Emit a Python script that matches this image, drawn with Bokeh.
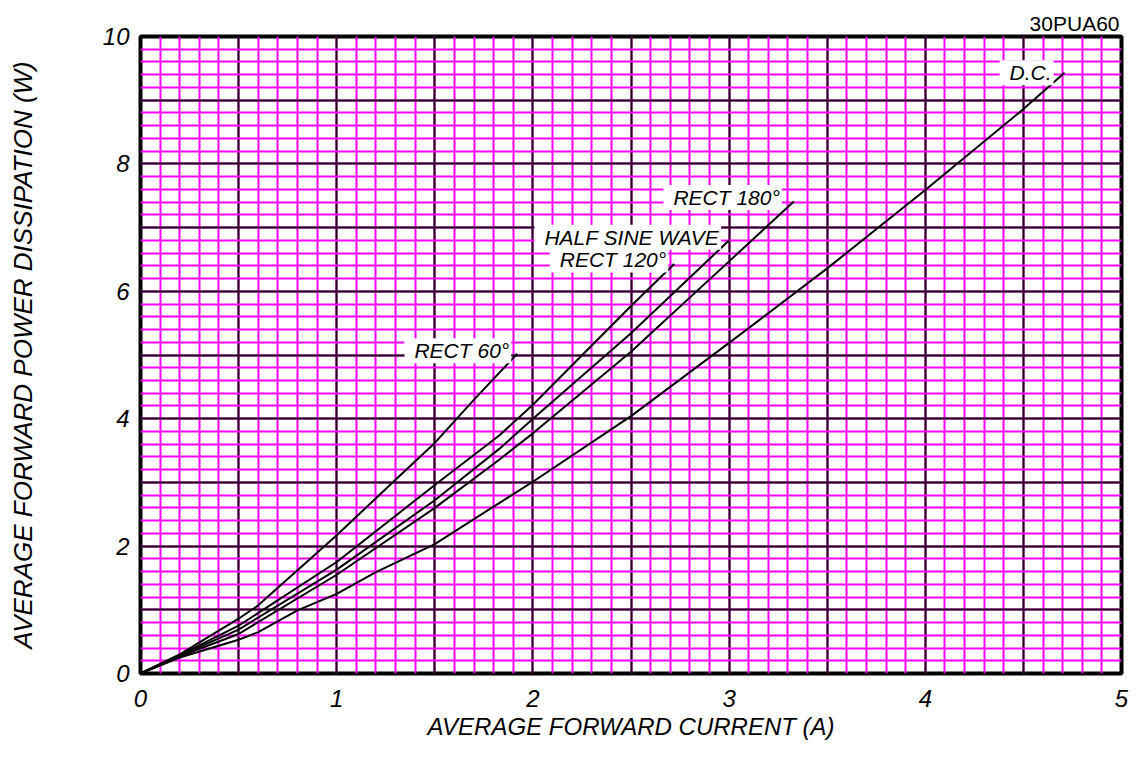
from bokeh.plotting import figure
from bokeh.models import SingleIntervalTicker, FixedTicker, Label
from bokeh.embed import file_html
from bokeh.resources import INLINE

# ---- data ----
rect60_x = [0, 0.2, 0.5, 0.6, 1.0, 1.32, 1.5, 1.7, 1.92]
rect60_y = [0, 0.30, 0.86, 1.07, 2.17, 3.10, 3.62, 4.30, 5.02]

rect120_x = [0, 0.2, 0.5, 1.0, 1.5, 1.83, 2.0, 2.5, 2.72]
rect120_y = [0, 0.29, 0.75, 1.75, 2.96, 3.74, 4.22, 5.77, 6.43]

halfsine_x = [0, 0.2, 0.5, 1.0, 1.5, 1.83, 2.0, 2.5, 3.0]
halfsine_y = [0, 0.28, 0.69, 1.63, 2.72, 3.53, 4.0, 5.34, 6.8]

rect180_x = [0, 0.2, 0.5, 1.0, 1.5, 1.83, 2.0, 2.5, 3.0, 3.33]
rect180_y = [0, 0.27, 0.62, 1.55, 2.6, 3.36, 3.77, 5.05, 6.47, 7.41]

dc_x = [0, 0.2, 0.5, 0.6, 0.8, 1.0, 1.2, 1.5, 1.83, 2.0, 2.5, 3.0, 3.5, 4.0, 4.5, 4.71]
dc_y = [0, 0.25, 0.53, 0.65, 0.99, 1.25, 1.59, 2.03, 2.68, 3.01, 4.04, 5.19, 6.36, 7.59, 8.86, 9.43]

series_names = ["RECT 60°", "RECT 120°", "HALF SINE WAVE", "RECT 180°", "D.C."]
x_ticks = [0, 1, 2, 3, 4, 5]
y_ticks = [0, 2, 4, 6, 8, 10]
part_number = "30PUA60"
x_title = "AVERAGE FORWARD CURRENT (A)"
y_title = "AVERAGE FORWARD POWER DISSIPATION (W)"

FONT = "Liberation Sans"

p = figure(width=1130, height=742, x_range=(0, 5), y_range=(0, 10),
           output_backend="svg", toolbar_location=None,
           min_border_left=140, min_border_right=9,
           min_border_top=36, min_border_bottom=69)

p.background_fill_color = "white"
p.border_fill_color = "white"
p.outline_line_color = "black"
p.outline_line_width = 4

# title used for the part number (top right)
p.title.text = part_number
p.title.align = "right"
p.title.text_font = FONT
p.title.text_font_style = "normal"
p.title.text_font_size = "21px"
p.title.text_color = "black"
p.title.standoff = 3
p.title.offset = 2

# grids: magenta minor, dark major
p.xgrid.ticker = SingleIntervalTicker(interval=0.5, num_minor_ticks=5)
p.ygrid.ticker = SingleIntervalTicker(interval=1, num_minor_ticks=5)
for g in (p.xgrid, p.ygrid):
    g.grid_line_color = "#1a0814"
    g.grid_line_width = 2
    g.grid_line_alpha = 1
    g.minor_grid_line_color = "#ff00ff"
    g.minor_grid_line_width = 2
    g.minor_grid_line_alpha = 1

# axes
p.xaxis.ticker = FixedTicker(ticks=x_ticks)
p.yaxis.ticker = FixedTicker(ticks=y_ticks)
for ax in (p.xaxis, p.yaxis):
    ax.axis_line_color = None
    ax.major_tick_line_color = None
    ax.minor_tick_line_color = None
    ax.major_label_text_font = FONT
    ax.major_label_text_font_style = "italic"
    ax.major_label_text_font_size = "24px"
    ax.major_label_text_color = "black"
    ax.axis_label_text_font = FONT
    ax.axis_label_text_font_style = "italic"
    ax.axis_label_text_color = "black"
p.xaxis.axis_label_text_font_size = "24px"
p.yaxis.axis_label_text_font_size = "26px"
p.xaxis.major_label_standoff = 10
p.yaxis.major_label_standoff = 5
p.xaxis.axis_label = x_title
p.yaxis.axis_label = y_title
p.xaxis.axis_label_standoff = 3
p.yaxis.axis_label_standoff = 62

curves = [(rect60_x, rect60_y), (rect120_x, rect120_y), (halfsine_x, halfsine_y),
          (rect180_x, rect180_y), (dc_x, dc_y)]
offsets = [(-6, 3), (-6, 4), (-8, 3), (-12, 4), (-11, 0)]

for (xs, ys), name, (dx, dy) in zip(curves, series_names, offsets):
    p.line(xs, ys, line_color="black", line_width=2)
    p.add_layout(Label(x=xs[-1], y=ys[-1], x_offset=dx, y_offset=dy, text=name,
                       text_align="right", text_baseline="middle",
                       text_font=FONT, text_font_style="italic",
                       text_font_size="21px", text_color="black",
                       background_fill_color="white", background_fill_alpha=1,
                       padding=dict(left=10, right=2, top=1, bottom=1)))

open("out.html", "w").write(file_html(p, INLINE))
